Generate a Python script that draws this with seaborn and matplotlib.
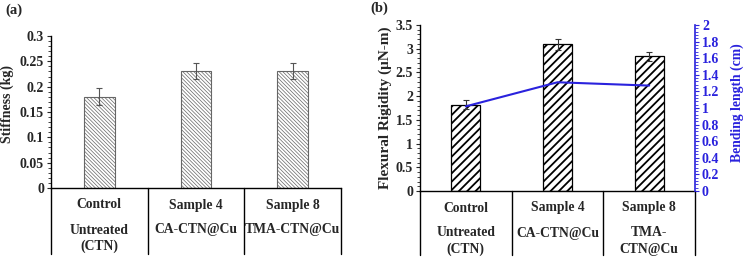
import matplotlib
matplotlib.use("Agg")
import matplotlib.pyplot as plt
import matplotlib.transforms as mtransforms
from matplotlib.ticker import MultipleLocator
import numpy as np
import pandas as pd
import seaborn as sns

sns.set_theme(style="white")
plt.rcParams['font.family'] = ['Liberation Serif', 'DejaVu Serif']
plt.rcParams['font.weight'] = 'bold'

# data
samples = ["Control", "Sample 4", "Sample 8"]
treat_a = ["Untreated\n(CTN)", "CA-CTN@Cu", "TMA-CTN@Cu"]
treat_b = ["Untreated\n(CTN)", "CA-CTN@Cu", "TMA-\nCTN@Cu"]
stiffness = [0.18, 0.231, 0.231]
stiffness_err = [0.017, 0.016, 0.016]
rigidity = [1.82, 3.09, 2.84]
rigidity_err = [0.10, 0.12, 0.09]
bending = [1.02, 1.31, 1.27]

BLUE = "#2a22dd"

fig = plt.figure(figsize=(7.45, 2.57), dpi=100)
ax1 = fig.add_axes([51/745, 1 - 188/257, 290/745, 152/257])
ax2 = fig.add_axes([420/745, 1 - 191/257, 275/745, 166/257])


def category_table(ax, labels, h_px, depth_px):
    # excel-style two-row category table under the axis (offsets in pixels)
    trans = mtransforms.blended_transform_factory(ax.transData, ax.transAxes)
    f = lambda px: -px / h_px
    for xv in [-0.5, 0.5, 1.5, 2.5]:
        ax.plot([xv, xv], [0, f(depth_px)], color="black", lw=1.0,
                transform=trans, clip_on=False)
    for i, (s, t) in enumerate(zip(samples, labels)):
        ax.text(i, f(17), s, transform=trans, ha="center", va="center",
                fontsize=9.8, fontweight="bold")
        for j, line in enumerate(t.split("\n")):
            ax.text(i, f(42 + 16 * j), line, transform=trans, ha="center",
                    va="center", fontsize=9.8, fontweight="bold")


def style_axis(ax):
    ax.set_xlim(-0.5, 2.5)
    ax.set_xticks([])
    ax.set_xlabel("")
    for sp in ["top", "right"]:
        ax.spines[sp].set_visible(False)
    for sp in ["left", "bottom"]:
        ax.spines[sp].set_color("black")
        ax.spines[sp].set_linewidth(1.0)
    ax.tick_params(axis="y", which="major", direction="out", length=3,
                   width=0.8, labelsize=10, pad=2, left=True)
    ax.tick_params(axis="y", which="minor", direction="out", length=2,
                   width=0.6, left=True)
    for lbl in ax.get_yticklabels():
        lbl.set_fontweight("bold")


# ---- panel (a)
plt.rcParams['hatch.linewidth'] = 0.5
df_a = pd.DataFrame({"sample": samples, "stiffness": stiffness})
sns.barplot(data=df_a, x="sample", y="stiffness", ax=ax1, width=0.32,
            color="white", edgecolor="#444444", linewidth=0.8)
for p in ax1.patches:
    p.set_hatch("\\\\\\\\\\\\\\\\\\")
    p.set_edgecolor("#666666")
ax1.errorbar(range(3), stiffness, yerr=stiffness_err, fmt="none",
             ecolor="#555555", elinewidth=0.8, capsize=2.5, capthick=0.8)
ax1.set_ylim(0, 0.3)
ax1.yaxis.set_major_locator(MultipleLocator(0.05))
ax1.yaxis.set_minor_locator(MultipleLocator(0.01))
ax1.yaxis.set_major_formatter(plt.FuncFormatter(lambda v, _: f"{v:g}"))
style_axis(ax1)
ax1.set_ylabel("Stiffness (kg)", fontsize=10, fontweight="bold")
ax1.yaxis.set_label_coords(-0.128, 0.55)
category_table(ax1, treat_a, 152, 66)

# ---- panel (b)
df_b = pd.DataFrame({"sample": samples, "rigidity": rigidity,
                     "bending": bending})
plt.rcParams['hatch.linewidth'] = 1.3
sns.barplot(data=df_b, x="sample", y="rigidity", ax=ax2, width=0.32,
            color="white", edgecolor="black", linewidth=0.9)
for p in ax2.patches:
    p.set_hatch("////")
ax2.errorbar(range(3), rigidity, yerr=rigidity_err, fmt="none",
             ecolor="#333333", elinewidth=0.8, capsize=2.5, capthick=0.8)
ax2.set_ylim(0, 3.5)
ax2.yaxis.set_major_locator(MultipleLocator(0.5))
ax2.yaxis.set_minor_locator(MultipleLocator(0.1))
ax2.yaxis.set_major_formatter(plt.FuncFormatter(lambda v, _: f"{v:g}"))
style_axis(ax2)
ax2.set_ylabel("Flexural Rigidity (μN-m)", fontsize=11, fontweight="bold",
               labelpad=3)

category_table(ax2, treat_b, 166, 64)

ax3 = ax2.twinx()
sns.lineplot(x=[0, 1, 2], y=df_b["bending"], ax=ax3, color=BLUE, lw=1.5)
ax3.set_ylim(0, 2)
ax3.yaxis.set_major_locator(MultipleLocator(0.2))
ax3.yaxis.set_minor_locator(MultipleLocator(0.04))
ax3.yaxis.set_major_formatter(plt.FuncFormatter(lambda v, _: f"{v:g}"))
for sp in ["top", "left", "bottom"]:
    ax3.spines[sp].set_visible(False)
ax3.spines["right"].set_color(BLUE)
ax3.spines["right"].set_linewidth(1.2)
ax3.tick_params(axis="y", which="major", direction="out", length=3,
                width=0.8, color=BLUE, labelcolor=BLUE, labelsize=10, pad=2,
                right=True)
ax3.tick_params(axis="y", which="minor", direction="out", length=2,
                width=0.6, color=BLUE, right=True)
for lbl in ax3.get_yticklabels():
    lbl.set_fontweight("bold")
ax3.set_ylabel("Bending length (cm)", color=BLUE, fontsize=9.8,
               fontweight="bold")
ax3.yaxis.set_label_coords(1.128, 0.53)

fig.text(5/745, 1 - 10/257, "(a)", fontsize=10.5, fontweight="bold",
         va="center", ha="left")
fig.text(370/745, 1 - 8/257, "(b)", fontsize=10.5, fontweight="bold",
         va="center", ha="left")

fig.savefig("out.png", dpi=100)
